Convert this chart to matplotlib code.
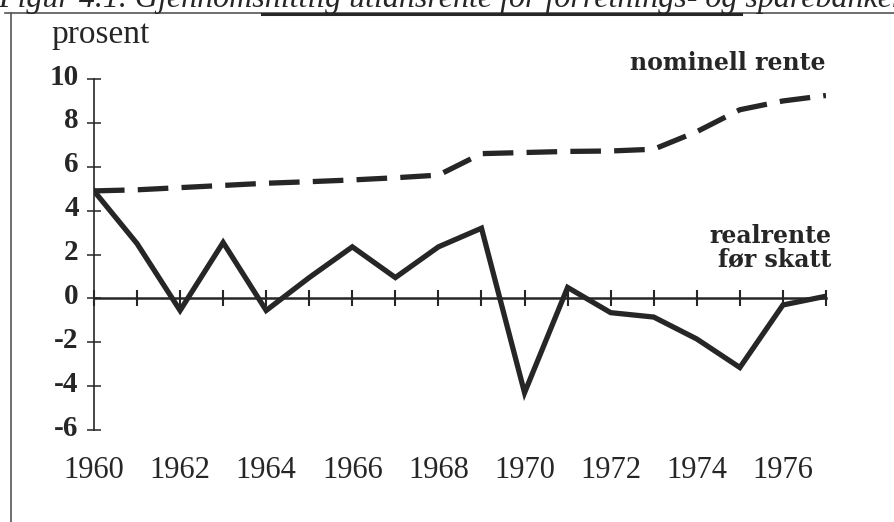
import matplotlib.pyplot as plt
import matplotlib.transforms as mtransforms
from matplotlib.lines import Line2D

years = list(range(1960, 1978))
realrente = [4.9, 2.5, -0.55, 2.55, -0.55, 0.95, 2.35, 0.95, 2.35, 3.2,
             -4.3, 0.5, -0.65, -0.85, -1.85, -3.15, -0.3, 0.1]
nominell = [4.9, 4.95, 5.05, 5.15, 5.25, 5.32, 5.4, 5.5, 5.62, 6.6,
            6.65, 6.7, 6.72, 6.8, 7.6, 8.6, 9.0, 9.25]
yticks = [-6, -4, -2, 0, 2, 4, 6, 8, 10]
xlabels = [1960, 1962, 1964, 1966, 1968, 1970, 1972, 1974, 1976]

INK = "#262626"
SERIF = ["Liberation Serif", "DejaVu Serif"]
LABEL_FONT = ["DejaVu Serif"]

plt.rcParams["font.family"] = SERIF

fig = plt.figure(figsize=(8.94, 5.22), dpi=100)
ax = fig.add_axes([0.1051, 0.1762, 0.8188, 0.6724])

ax.plot(years, realrente, color=INK, lw=3.8, solid_joinstyle="miter")
ax.plot(years, nominell, color=INK, lw=3.8, linestyle=(0, (5.8, 2.5)))

ax.set_xlim(1960, 1977)
ax.set_ylim(-6, 10)

for side in ["top", "right"]:
    ax.spines[side].set_visible(False)
ax.spines["bottom"].set_position(("data", 0))
ax.spines["bottom"].set_linewidth(1.8)
ax.spines["left"].set_linewidth(1.2)
ax.spines["bottom"].set_color(INK)
ax.spines["left"].set_color(INK)

ax.set_xticks(years)
ax.tick_params(axis="x", direction="inout", length=11, width=1.5,
               color=INK, labelbottom=False)
ax.set_yticks(yticks)
ax.set_yticklabels([str(v) for v in yticks], fontweight="bold")
ax.tick_params(axis="y", direction="inout", length=10, width=1.1,
               color=INK, labelsize=21, pad=6, labelcolor=INK)
shift = mtransforms.ScaledTranslation(0, 5 / 100, fig.dpi_scale_trans)
for lab in ax.get_yticklabels():
    lab.set_transform(lab.get_transform() + shift)

sec = ax.secondary_xaxis(0.0)
sec.set_xticks(xlabels)
sec.set_xticklabels([str(y) for y in xlabels])
sec.tick_params(length=0, pad=19, labelsize=22, labelcolor=INK)
sec.spines["bottom"].set_visible(False)

fig.text(0.058, 0.917, "prosent", fontsize=24, color=INK, va="baseline")
ax.text(1.0, 1.026, "nominell rente", transform=ax.transAxes,
        fontsize=17, fontweight="bold", ha="right", va="baseline",
        color=INK, family=LABEL_FONT)
ax.text(1.007, 0.52, "realrente\nfør skatt", transform=ax.transAxes,
        fontsize=17, fontweight="bold", ha="right", va="center",
        color=INK, linespacing=0.95, family=LABEL_FONT)

# scanned page: cut-off caption and frame lines
fig.text(-0.002, 0.9866, "Figur 4.1. Gjennomsnittlig utlånsrente for forretnings- og sparebankene",
         fontsize=23, fontstyle="italic", color=INK, va="baseline")
fig.add_artist(Line2D([0.006, 1.0], [0.975, 0.975], color="#555555", lw=1.2,
                      transform=fig.transFigure))
fig.add_artist(Line2D([0.293, 0.829], [0.973, 0.973], color=INK, lw=2.2,
                      transform=fig.transFigure))
fig.add_artist(Line2D([0.0123, 0.0123], [0.0, 0.975], color="#555555", lw=1.2,
                      transform=fig.transFigure))

fig.savefig("out.png", dpi=100)
